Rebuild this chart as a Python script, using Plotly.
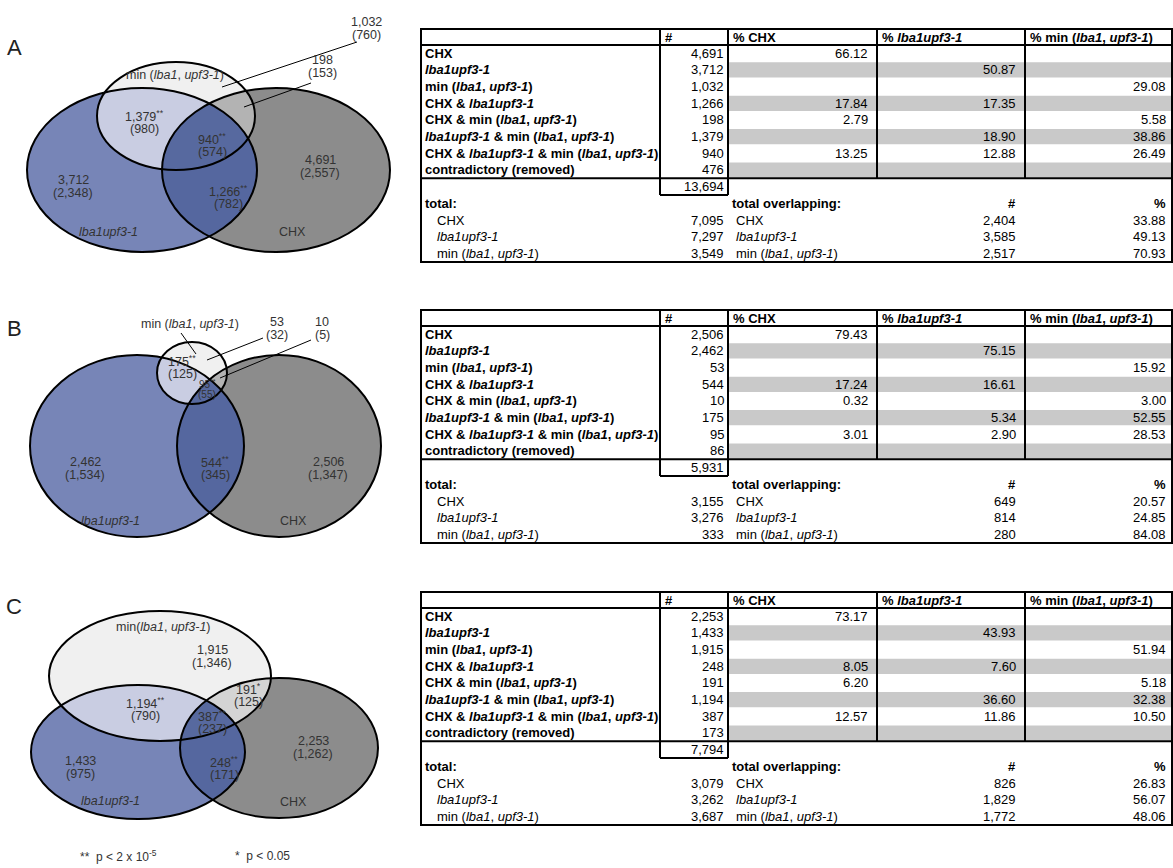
import numpy as np
import plotly.graph_objects as go

# ---------------- DATA ----------------
panels = ["A", "B", "C"]

# table rows
row_labels = [
    "CHX",
    "<i>lba1upf3-1</i>",
    "min (<i>lba1</i>, <i>upf3-1</i>)",
    "CHX &amp; <i>lba1upf3-1</i>",
    "CHX &amp; min (<i>lba1</i>, <i>upf3-1</i>)",
    "<i>lba1upf3-1</i> &amp; min (<i>lba1</i>, <i>upf3-1</i>)",
    "CHX &amp; <i>lba1upf3-1</i> &amp; min (<i>lba1</i>, <i>upf3-1</i>)",
    "contradictory (removed)",
]
header_labels = ["#", "% CHX", "% <i>lba1upf3-1</i>", "% min (<i>lba1</i>, <i>upf3-1</i>)"]
total_labels = ["CHX", "<i>lba1upf3-1</i>", "min (<i>lba1</i>, <i>upf3-1</i>)"]

counts_A = [4691, 3712, 1032, 1266, 198, 1379, 940, 476]
counts_B = [2506, 2462, 53, 544, 10, 175, 95, 86]
counts_C = [2253, 1433, 1915, 248, 191, 1194, 387, 173]
grand_A, grand_B, grand_C = 13694, 5931, 7794

pct_chx_A = [66.12, None, None, 17.84, 2.79, None, 13.25, None]
pct_lba_A = [None, 50.87, None, 17.35, None, 18.90, 12.88, None]
pct_min_A = [None, None, 29.08, None, 5.58, 38.86, 26.49, None]
pct_chx_B = [79.43, None, None, 17.24, 0.32, None, 3.01, None]
pct_lba_B = [None, 75.15, None, 16.61, None, 5.34, 2.90, None]
pct_min_B = [None, None, 15.92, None, 3.00, 52.55, 28.53, None]
pct_chx_C = [73.17, None, None, 8.05, 6.20, None, 12.57, None]
pct_lba_C = [None, 43.93, None, 7.60, None, 36.60, 11.86, None]
pct_min_C = [None, None, 51.94, None, 5.18, 32.38, 10.50, None]

totals_A = [7095, 7297, 3549]
totals_B = [3155, 3276, 333]
totals_C = [3079, 3262, 3687]
overlap_n_A = [2404, 3585, 2517]
overlap_n_B = [649, 814, 280]
overlap_n_C = [826, 1829, 1772]
overlap_pct_A = [33.88, 49.13, 70.93]
overlap_pct_B = [20.57, 24.85, 84.08]
overlap_pct_C = [26.83, 56.07, 48.06]

# Venn region order: chx, lba, min, chx&lba, chx&min, lba&min, all
venn_paren_A = [2557, 2348, 760, 782, 153, 980, 574]
venn_paren_B = [1347, 1534, 32, 345, 5, 125, 55]
venn_paren_C = [1262, 975, 1346, 171, 125, 790, 237]
venn_sig_A = ["", "", "", "**", "", "**", "**"]
venn_sig_B = ["", "", "", "**", "", "**", "**"]
venn_sig_C = ["", "", "", "**", "*", "**", "**"]
min_set_label = ["min (<i>lba1</i>, <i>upf3-1</i>)", "min (<i>lba1</i>, <i>upf3-1</i>)", "min(<i>lba1</i>, <i>upf3-1</i>)"]

# ---------------- LAYOUT / STYLE ----------------
FONT = "Liberation Sans, Arial, sans-serif"
W, H = 1173, 868
C_LBA, C_CHX, C_MIN = "#7785b7", "#8c8c8c", "#f0f0f0"
C_LBA_MIN, C_LBA_CHX, C_ALL = "#c9cde2", "#55679f", "#57699f"
C_CHX_MIN = ["#b3b3b3", "#b3b3b3", "#d4d4d4"]
TXT = "#333333"
VF = 12.5  # venn font size

# ellipse geometry per panel: (cx, cy, rx, ry)
geom = {
    "A": dict(lba=(142, 170, 115, 82), chx=(276, 170, 114, 82), mn=(176, 116, 79, 54)),
    "B": dict(lba=(137, 446, 107, 91), chx=(279, 446, 102, 91), mn=(192, 373, 35, 31)),
    "C": dict(lba=(138, 752, 107, 67), chx=(279, 748, 99, 70), mn=(160, 676, 111, 65)),
}
# label positions: chx, lba, min, chx&lba, chx&min, lba&min, all, min-label, lba-label, chx-label
pos = {
    "A": [(320, 160), (73, 180), (366, 22), (228, 191), (322, 60), (144, 116), (212, 139),
          (175, 75), (108, 232), (292, 232)],
    "B": [(328, 462), (85, 462), (277, 322), (215, 462), (322, 322), (182, 361), (207, 384),
          (190, 324), (110, 521), (293, 521)],
    "C": [(313, 741), (80, 761), (212, 650), (224, 762), (248, 689), (145, 703), (212, 716),
          (163, 627), (110, 801), (293, 802)],
}
leaders = {
    "A": [((357, 42), (222, 87)), ((311, 83), (244, 107))],
    "B": [((181, 333), (196, 354)), ((263, 338), (207, 360)), ((311, 340), (220, 378))],
    "C": [],
}
letter_y = {"A": 47, "B": 328, "C": 606}
table_top = {"A": 29, "B": 310, "C": 592}

fig = go.Figure()
shapes = []
ann = []


def ellipse_pts(e, n=260):
    cx, cy, rx, ry = e
    t = np.linspace(0, 2 * np.pi, n, endpoint=False)
    return [(cx + rx * np.cos(a), cy + ry * np.sin(a)) for a in t]


def clip(subject, clipper):
    out = subject
    m = len(clipper)
    for i in range(m):
        a = clipper[i]
        b = clipper[(i + 1) % m]
        inp = out
        out = []
        if not inp:
            break

        def inside(p):
            return (b[0] - a[0]) * (p[1] - a[1]) - (b[1] - a[1]) * (p[0] - a[0]) >= 0

        def inter(p, q):
            x1, y1 = p; x2, y2 = q; x3, y3 = a; x4, y4 = b
            den = (x1 - x2) * (y3 - y4) - (y1 - y2) * (x3 - x4)
            if den == 0:
                return q
            t = ((x1 - x3) * (y3 - y4) - (y1 - y3) * (x3 - x4)) / den
            return (x1 + t * (x2 - x1), y1 + t * (y2 - y1))

        s = inp[-1]
        for e in inp:
            if inside(e):
                if not inside(s):
                    out.append(inter(s, e))
                out.append(e)
            elif inside(s):
                out.append(inter(s, e))
            s = e
    return out


def add_poly(pts, color):
    if not pts:
        return
    xs = [p[0] for p in pts] + [pts[0][0]]
    ys = [p[1] for p in pts] + [pts[0][1]]
    fig.add_trace(go.Scatter(x=xs, y=ys, fill="toself", fillcolor=color, mode="lines",
                             line=dict(width=0, color="rgba(0,0,0,0)"),
                             hoverinfo="skip", showlegend=False))


def text(x, y, s, size=12, color=TXT, xanchor="center", yanchor="middle"):
    ann.append(dict(x=x, y=y, xref="x", yref="y", text=s, showarrow=False,
                    xanchor=xanchor, yanchor=yanchor,
                    font=dict(family=FONT, size=size, color=color)))


def line(x0, y0, x1, y1, w=2, color="black"):
    shapes.append(dict(type="line", xref="x", yref="y", x0=x0, y0=y0, x1=x1, y1=y1,
                       line=dict(color=color, width=w)))


venn_counts = {"A": counts_A, "B": counts_B, "C": counts_C}
venn_paren = {"A": venn_paren_A, "B": venn_paren_B, "C": venn_paren_C}
venn_sig = {"A": venn_sig_A, "B": venn_sig_B, "C": venn_sig_C}

for k, p in enumerate(panels):
    g = geom[p]
    L = ellipse_pts(g["lba"]); Cx = ellipse_pts(g["chx"]); M = ellipse_pts(g["mn"])
    add_poly(L, C_LBA)
    add_poly(Cx, C_CHX)
    add_poly(M, C_MIN)
    add_poly(clip(L, M), C_LBA_MIN)
    add_poly(clip(Cx, M), C_CHX_MIN[k])
    add_poly(clip(L, Cx), C_LBA_CHX)
    add_poly(clip(clip(L, Cx), M), C_ALL)
    for e in (g["lba"], g["chx"], g["mn"]):
        cx, cy, rx, ry = e
        shapes.append(dict(type="circle", xref="x", yref="y", x0=cx - rx, x1=cx + rx,
                           y0=cy - ry, y1=cy + ry, line=dict(color="black", width=2)))
    cnt = venn_counts[p]
    for r in range(7):
        x, y = pos[p][r]
        small = (p == "B" and r == 6)
        sz = 10 if small else VF
        dy = 10 if small else 12.5
        sig = venn_sig[p][r]
        s1 = f"{cnt[r]:,}" + (f"<sup>{sig}</sup>" if sig else "")
        text(x, y, s1, size=sz)
        text(x, y + dy, f"({venn_paren[p][r]:,})", size=sz)
    mx, my = pos[p][7]
    text(mx, my, min_set_label[k], size=VF)
    lx, ly = pos[p][8]
    text(lx, ly, "<i>lba1upf3-1</i>", size=VF)
    chx_x, chx_y = pos[p][9]
    text(chx_x, chx_y, "CHX", size=VF)
    for (a, b) in leaders[p]:
        line(a[0], a[1], b[0], b[1], w=1)
    text(14, letter_y[p], p, size=22, color="#222222")

text(118, 856, "**  p &lt; 2 x 10<sup>-5</sup>", size=12)
text(262, 856, "*  p &lt; 0.05", size=12)

# ---------------- TABLES ----------------
tab = {
    "A": (counts_A, grand_A, pct_chx_A, pct_lba_A, pct_min_A, totals_A, overlap_n_A, overlap_pct_A),
    "B": (counts_B, grand_B, pct_chx_B, pct_lba_B, pct_min_B, totals_B, overlap_n_B, overlap_pct_B),
    "C": (counts_C, grand_C, pct_chx_C, pct_lba_C, pct_min_C, totals_C, overlap_n_C, overlap_pct_C),
}
xL, x1, x2, x3, x4, xR = 421, 660, 728, 877, 1025, 1172
RS = 16.67
for p in panels:
    T = table_top[p]
    cnt, grand, pc, pl, pm, tot, on, op = tab[p]

    def rc(i):
        return T + 24.3 + RS * i

    for i in (1, 3, 5, 7):
        shapes.append(dict(type="rect", xref="x", yref="y", x0=x2 + 1, x1=xR - 1,
                           y0=rc(i) - 7.6, y1=rc(i) + 7.6, fillcolor="#c9c9c9",
                           line=dict(width=0)))
    yh = T + 16
    yc = rc(7.5)
    yb = rc(8.5)
    ybot = T + 233
    shapes.append(dict(type="rect", xref="x", yref="y", x0=xL, x1=xR, y0=T, y1=ybot,
                       line=dict(color="black", width=2)))
    line(xL, yh, xR, yh)
    line(xL, yc, xR, yc)
    line(x1, T, x1, yb)
    line(x2, T, x2, yb)
    line(x3, T, x3, yc)
    line(x4, T, x4, yc)
    line(x1, yb, x2, yb)

    hx = [x1 + 3, x2 + 3, x3 + 3, x4 + 3]
    for h, xx in zip(header_labels, hx):
        text(xx, T + 8.3, f"<b>{h}</b>", size=13, color="black", xanchor="left")
    for i in range(8):
        y = rc(i)
        text(xL + 2, y, f"<b>{row_labels[i]}</b>", size=13, color="black", xanchor="left")
        text(x2 - 2, y, f"{cnt[i]:,}", size=13, color="black", xanchor="right")
        for arr, xx in ((pc, x3 - 7), (pl, x4 - 7), (pm, xR - 4)):
            if arr[i] is not None:
                text(xx, y, f"{arr[i]:.2f}", size=13, color="black", xanchor="right")
    text(x2 - 2, rc(8), f"{grand:,}", size=13, color="black", xanchor="right")
    text(xL + 2, rc(9), "<b>total:</b>", size=13, color="black", xanchor="left")
    text(x2 + 2, rc(9), "<b>total overlapping:</b>", size=13, color="black", xanchor="left")
    text(x4 - 7, rc(9), "<b>#</b>", size=13, color="black", xanchor="right")
    text(xR - 4, rc(9), "<b>%</b>", size=13, color="black", xanchor="right")
    for j in range(3):
        y = rc(10 + j)
        text(xL + 14, y, total_labels[j], size=13, color="black", xanchor="left")
        text(x2 - 2, y, f"{tot[j]:,}", size=13, color="black", xanchor="right")
        text(x2 + 6, y, total_labels[j], size=13, color="black", xanchor="left")
        text(x4 - 7, y, f"{on[j]:,}", size=13, color="black", xanchor="right")
        text(xR - 4, y, f"{op[j]:.2f}", size=13, color="black", xanchor="right")

fig.update_layout(
    width=W, height=H, margin=dict(l=0, r=0, t=0, b=0),
    paper_bgcolor="white", plot_bgcolor="white",
    xaxis=dict(range=[0, W], visible=False, fixedrange=True),
    yaxis=dict(range=[H, 0], visible=False, fixedrange=True),
    shapes=shapes, annotations=ann, showlegend=False,
)
fig.write_html("out.html")
